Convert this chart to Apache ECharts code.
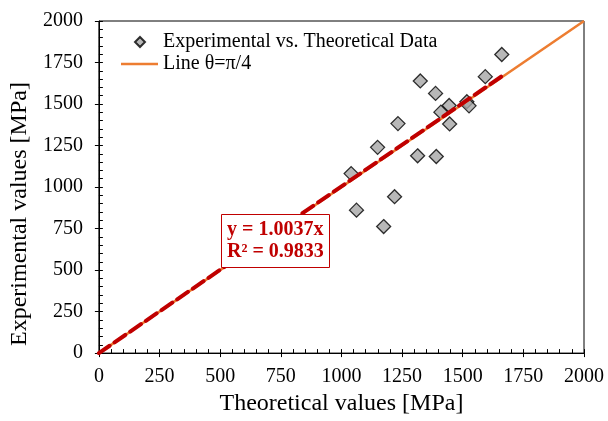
<!DOCTYPE html>
<html lang="en">
<head>
<meta charset="UTF-8">
<title>Experimental vs. Theoretical</title>
<script src="https://cdn.jsdelivr.net/npm/echarts@6/dist/echarts.min.js"></script>
<style>
    html,body{margin:0;padding:0;background:#fff;}
    #main{width:608px;height:421px;}
</style>
</head>
<body>
<div id="main"></div>
<script type="text/javascript">
    // values (MPa)
    var theoretical  = [1661,1593,1325,1388,1444,1517,1526,1410,1446,1233,1149,1314,1391,1040,1219,1062,1174];
    var experimental = [1798,1665,1639,1564,1491,1514,1489,1451,1380,1382,1239,1188,1184,1081, 942, 861, 762];
    var tickLabels = ['0','250','500','750','1000','1250','1500','1750','2000'];
    var refLine = [[0,0],[2000,2000]];
    var slope = 1.0037;
    var r2 = 0.9833;
    var trendEndX = 1665;

    var font = 'Liberation Serif';
    var points = [];
    for(var i=0;i<theoretical.length;i++){
        points.push([theoretical[i],experimental[i]]);
    }
    var trend = [[0,0],[trendEndX,trendEndX*slope]];
    var axisMax = Number(tickLabels[tickLabels.length-1]);
    var step = Number(tickLabels[1]);

    function mainAxis(name,isX){
        return {
            type:'value',
            min:0, max:axisMax, interval:step,
            position: isX ? 'bottom' : 'left',
            name:name,
            nameLocation:'middle',
            nameGap: isX ? 38 : 63,
            nameTextStyle:{fontFamily:font,fontSize:24,color:'#000',
                padding: isX ? 0 : [0,54,0,0]},
            axisLine:{show:true,lineStyle:{color:'#000',width:1}},
            axisTick:{show:true,inside:true,length:4,lineStyle:{color:'#000'}},
            minorTick:{show:true,splitNumber:5,length:4,lineStyle:{color:'#000'}},
            axisLabel:{fontFamily:font,fontSize:20,color:'#000',margin: isX ? 14 : 16,
                formatter:function(v){ return tickLabels[Math.round(v/step)]; }},
            splitLine:{show:false}
        };
    }
    // second axis only draws the outer half of the major ticks
    function outerTicks(isX){
        return {
            type:'value',
            min:0, max:axisMax, interval:step,
            position: isX ? 'bottom' : 'left',
            axisLine:{show:false},
            axisTick:{show:true,inside:false,length:4,lineStyle:{color:'#000'}},
            axisLabel:{show:false},
            splitLine:{show:false}
        };
    }

    var myChart = echarts.init(document.getElementById('main'));
    var option = {
        animation:false,
        grid:{left:98,right:24,top:21,bottom:63.5,show:true,borderColor:'#000',borderWidth:1},
        title:{
            text:'y = ' + slope.toFixed(4) + 'x\nR² = ' + r2.toFixed(4),
            left:221, top:214,
            padding:[5,6,5,6],
            backgroundColor:'#fff',
            borderColor:'#C00000', borderWidth:1,
            textStyle:{fontFamily:font,fontSize:20,fontWeight:'bold',color:'#C00000',lineHeight:22}
        },
        legend:[{
            data:[{name:'Experimental vs. Theoretical Data',icon:'diamond'}],
            left:134, top:32, padding:0,
            itemWidth:10, itemHeight:10,
            textStyle:{fontFamily:font,fontSize:20,color:'#000',padding:[0,0,0,13]}
        },{
            data:[{name:'Line θ=π/4',icon:'rect'}],
            left:121, top:54, padding:0,
            itemWidth:37, itemHeight:2.5,
            textStyle:{fontFamily:font,fontSize:20,color:'#000'}
        }],
        xAxis:[mainAxis('Theoretical values [MPa]',true),outerTicks(true)],
        yAxis:[mainAxis('Experimental values [MPa]',false),outerTicks(false)],
        series:[{
            name:'Experimental vs. Theoretical Data',
            type:'scatter',
            symbol:'diamond',
            symbolSize:14,
            itemStyle:{color:'#A6A6A6',borderColor:'#000',borderWidth:1.3},
            z:2,
            data:points
        },{
            name:'Line θ=π/4',
            type:'line',
            symbol:'none',
            lineStyle:{color:'#ED7D31',width:2.5},
            itemStyle:{color:'#ED7D31'},
            z:3,
            data:refLine
        },{
            name:'trend',
            type:'line',
            symbol:'none',
            lineStyle:{color:'#C00000',width:4,type:[13,6],cap:'round'},
            z:4,
            data:trend
        }]
    };
    myChart.setOption(option);
</script>
</body>
</html>
